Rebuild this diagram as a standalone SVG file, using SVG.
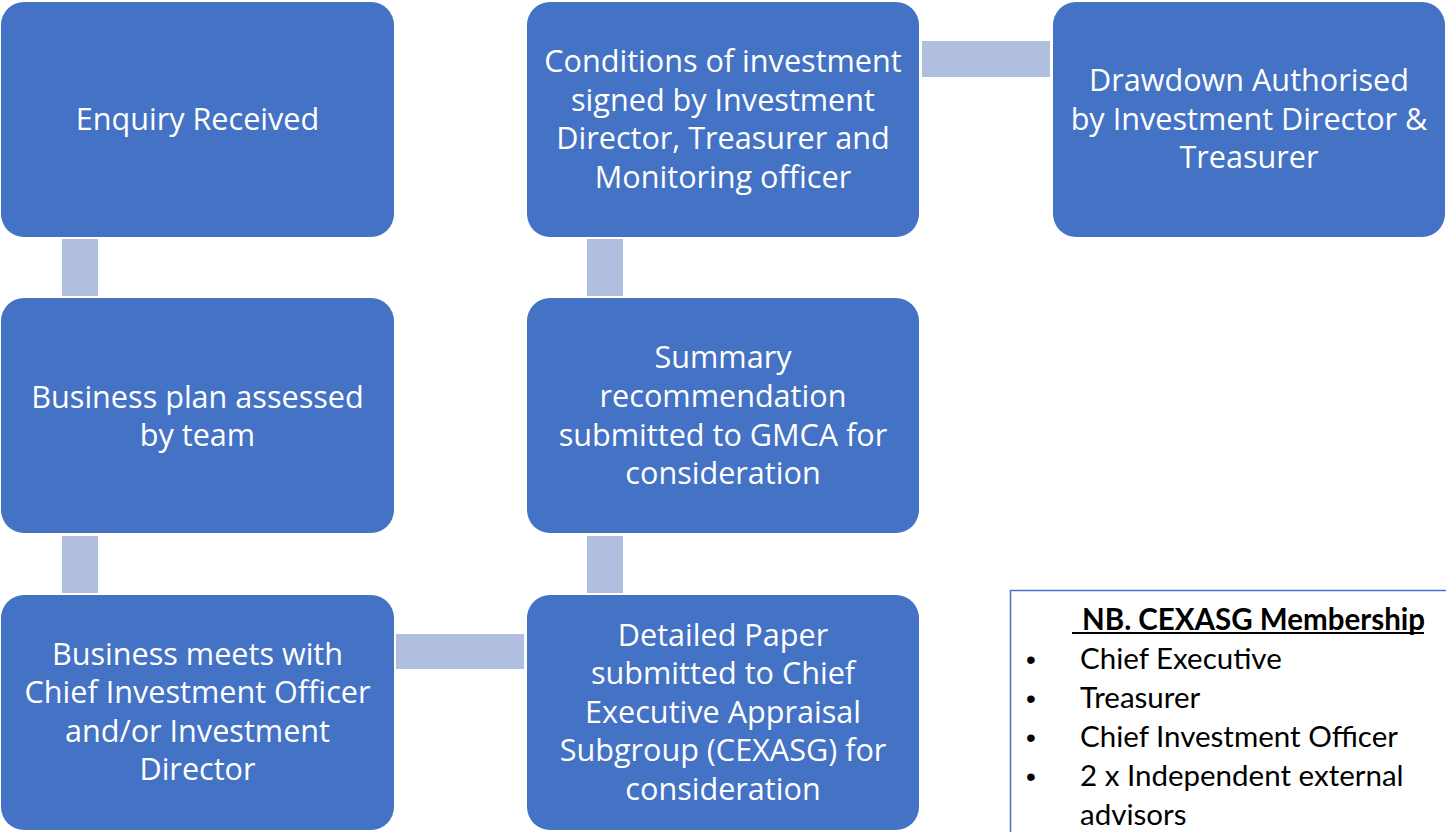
<svg xmlns="http://www.w3.org/2000/svg" width="1446" height="832" viewBox="0 0 1446 832">
<style>
.node{fill:#4472C4;}
.t{font-family:"Open Sans",sans-serif;font-size:30.6px;fill:#ffffff;text-anchor:middle;}
.conn{fill:#B0BEDF;}
.nb{font-family:Lato,"Open Sans",sans-serif;font-size:29.5px;fill:#000000;}
.bul{font-family:"Liberation Sans",sans-serif;font-size:28px;fill:#000000;}
</style>
<rect x="0" y="0" width="1446" height="832" fill="#ffffff"/>
<g id="connectors">
<rect class="conn" x="62" y="239" width="36" height="57"/>
<rect class="conn" x="62" y="536" width="36" height="57"/>
<rect class="conn" x="396" y="634" width="128" height="35"/>
<rect class="conn" x="587" y="536" width="36" height="57"/>
<rect class="conn" x="587" y="239" width="36" height="57"/>
<rect class="conn" x="922" y="41" width="128" height="36"/>
</g>
<g id="n1">
<rect class="node" x="1" y="2" width="393" height="235" rx="23"/>
<text class="t" x="197.5" y="130">Enquiry Received</text>
</g>
<g id="n2">
<rect class="node" x="1" y="298" width="393" height="235" rx="23"/>
<text class="t" x="197.5" y="408">Business plan assessed</text>
<text class="t" x="197.5" y="446">by team</text>
</g>
<g id="n3">
<rect class="node" x="1" y="595" width="393" height="235" rx="23"/>
<text class="t" x="197.5" y="665">Business meets with</text>
<text class="t" x="197.5" y="703">Chief Investment Officer</text>
<text class="t" x="197.5" y="742">and/or Investment</text>
<text class="t" x="197.5" y="780">Director</text>
</g>
<g id="n4">
<rect class="node" x="527" y="595" width="392" height="235" rx="23"/>
<text class="t" x="723" y="646">Detailed Paper</text>
<text class="t" x="723" y="684">submitted to Chief</text>
<text class="t" x="723" y="723">Executive Appraisal</text>
<text class="t" x="723" y="761">Subgroup (CEXASG) for</text>
<text class="t" x="723" y="800">consideration</text>
</g>
<g id="n5">
<rect class="node" x="527" y="298" width="392" height="235" rx="23"/>
<text class="t" x="723" y="368">Summary</text>
<text class="t" x="723" y="407">recommendation</text>
<text class="t" x="723" y="446">submitted to GMCA for</text>
<text class="t" x="723" y="484">consideration</text>
</g>
<g id="n6">
<rect class="node" x="527" y="2" width="392" height="235" rx="23"/>
<text class="t" x="723" y="72">Conditions of investment</text>
<text class="t" x="723" y="111">signed by Investment</text>
<text class="t" x="723" y="149">Director, Treasurer and</text>
<text class="t" x="723" y="188">Monitoring officer</text>
</g>
<g id="n7">
<rect class="node" x="1053" y="2" width="392" height="235" rx="23"/>
<text class="t" x="1249" y="91">Drawdown Authorised</text>
<text class="t" x="1249" y="130">by Investment Director &amp;</text>
<text class="t" x="1249" y="168">Treasurer</text>
</g>
<g id="nb">
<rect x="1010.5" y="590.5" width="460" height="260" fill="#ffffff" stroke="#4472C4" stroke-width="1.5"/>
<text class="nb" x="1082" y="630" font-weight="bold">NB. CEXASG Membership</text>
<line x1="1072" y1="633" x2="1424" y2="633" stroke="#000" stroke-width="2"/>
<text class="bul" x="1026" y="669">•</text>
<text class="nb" x="1080" y="669">Chief Executive</text>
<text class="bul" x="1026" y="708">•</text>
<text class="nb" x="1080" y="708">Treasurer</text>
<text class="bul" x="1026" y="747">•</text>
<text class="nb" x="1080" y="747">Chief Investment Officer</text>
<text class="bul" x="1026" y="786">•</text>
<text class="nb" x="1080" y="786">2 x Independent external</text>
<text class="nb" x="1080" y="825">advisors</text>
</g>
</svg>
